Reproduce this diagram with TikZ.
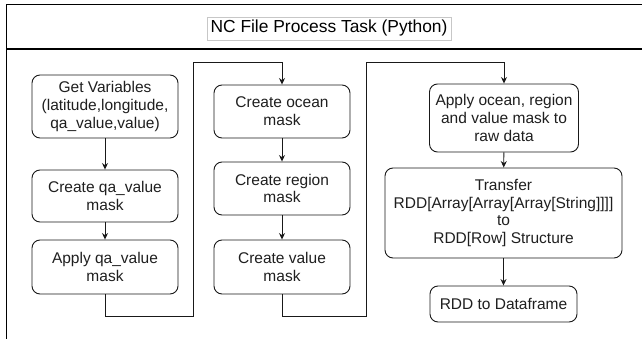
\documentclass[tikz,border=0pt]{standalone}
\usepackage{fontspec}
\setmainfont{Liberation Sans}
\usetikzlibrary{arrows.meta}
\tikzset{
  box/.style={draw=black!90, line width=0.9pt, rounded corners=8pt, fill=white,
    align=center, inner sep=0pt, text=black!88,
    font=\fontsize{15.5}{17.8}\selectfont},
  conn/.style={draw=black!90, line width=0.9pt},
  arr/.style={conn, -{Stealth[length=6.5pt,width=6pt]}},
  frame/.style={draw=black, line width=1.1pt}
}
\begin{document}
\begin{tikzpicture}[x=1pt,y=-1pt]
\useasboundingbox (0,0) rectangle (642,339);
% outer frame
\draw[frame] (6.5,339) -- (6.5,4.5) -- (643,4.5);
\draw[frame] (6.5,49) -- (643,49);
% title
\node[draw=black!22, line width=0.5pt, minimum width=244pt, minimum height=23pt, inner sep=0pt,
  font=\fontsize{17.4}{20}\selectfont] (title) at (329,28.5) {NC File Process Task (Python)};
% column 1
\node[box, minimum width=146pt, minimum height=63pt] (b1) at (105,106.5) {Get Variables\\(latitude,longitude,\\qa\_value,value)};
\node[box, minimum width=146pt, minimum height=52pt] (b2) at (105,196) {Create qa\_value\\mask};
\node[box, minimum width=146pt, minimum height=54pt] (b3) at (105,267) {Apply qa\_value\\mask};
% column 2
\node[box, minimum width=136pt, minimum height=53pt] (b4) at (282,111.5) {Create ocean\\mask};
\node[box, minimum width=136pt, minimum height=53pt] (b5) at (282,188.5) {Create region\\mask};
\node[box, minimum width=136pt, minimum height=54pt] (b6) at (282,267) {Create value\\mask};
% column 3
\node[box, minimum width=149pt, minimum height=68pt] (b7) at (504,118) {Apply ocean, region\\and value mask to\\raw data};
\node[box, minimum width=237pt, minimum height=90pt] (b8) at (503.5,213) {Transfer\\RDD[Array[Array[Array[String]]]]\\to\\RDD[Row] Structure};
\node[box, minimum width=147pt, minimum height=36pt] (b9) at (503.5,304) {RDD to Dataframe};
% routing points
\coordinate (r1a) at (193,316);
\coordinate (r1b) at (193,62);
\coordinate (r2a) at (366,316);
\coordinate (r2b) at (366,62);
% connectors
\draw[arr] (b1) -- (b2);
\draw[arr] (b2) -- (b3);
\draw[arr] (b3.south) |- (r1a) -- (r1b) -| (b4.north);
\draw[arr] (b4) -- (b5);
\draw[arr] (b5) -- (b6);
\draw[arr] (b6.south) |- (r2a) -- (r2b) -| (b7.north);
\draw[arr] (b7) -- (b8);
\draw[arr] (b8) -- (b9);
\end{tikzpicture}
\end{document}
